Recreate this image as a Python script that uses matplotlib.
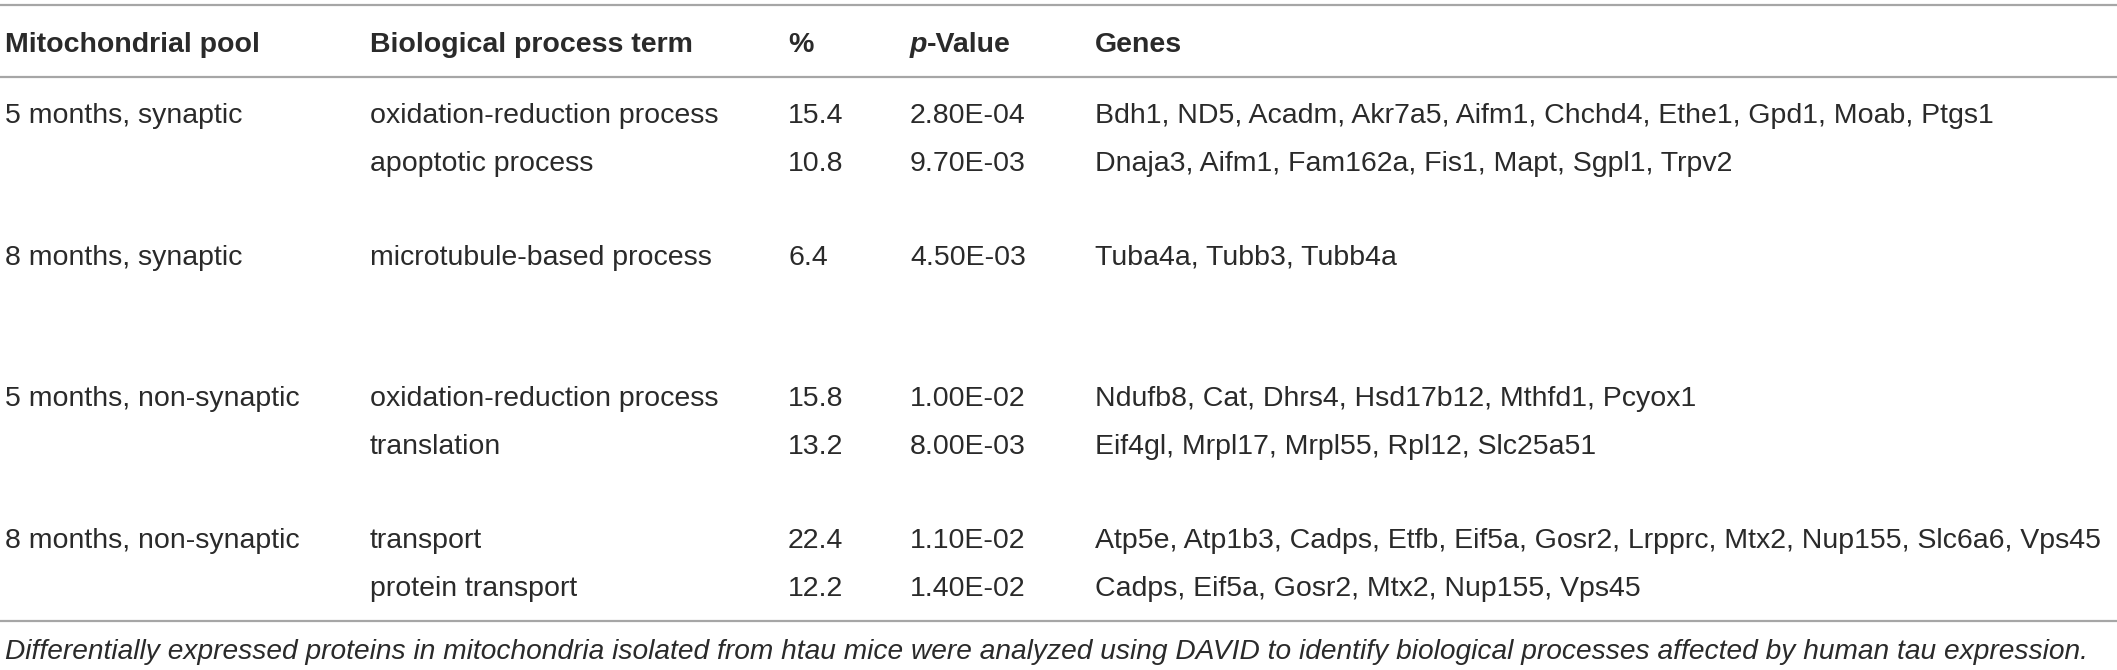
import matplotlib
matplotlib.use("Agg")
import matplotlib.pyplot as plt

plt.rcParams['font.family'] = ['Liberation Sans', 'DejaVu Sans']

# table content
headers = ["Mitochondrial pool", "Biological process term", "%", "p-Value", "Genes"]
pools = ["5 months, synaptic", "8 months, synaptic",
         "5 months, non-synaptic", "8 months, non-synaptic"]
terms = [["oxidation-reduction process", "apoptotic process"],
         ["microtubule-based process"],
         ["oxidation-reduction process", "translation"],
         ["transport", "protein transport"]]
percents = [["15.4", "10.8"], ["6.4"], ["15.8", "13.2"], ["22.4", "12.2"]]
pvalues = [["2.80E-04", "9.70E-03"], ["4.50E-03"],
           ["1.00E-02", "8.00E-03"], ["1.10E-02", "1.40E-02"]]
genes = [["Bdh1, ND5, Acadm, Akr7a5, Aifm1, Chchd4, Ethe1, Gpd1, Moab, Ptgs1",
          "Dnaja3, Aifm1, Fam162a, Fis1, Mapt, Sgpl1, Trpv2"],
         ["Tuba4a, Tubb3, Tubb4a"],
         ["Ndufb8, Cat, Dhrs4, Hsd17b12, Mthfd1, Pcyox1",
          "Eif4gl, Mrpl17, Mrpl55, Rpl12, Slc25a51"],
         ["Atp5e, Atp1b3, Cadps, Etfb, Eif5a, Gosr2, Lrpprc, Mtx2, Nup155, Slc6a6, Vps45",
          "Cadps, Eif5a, Gosr2, Mtx2, Nup155, Vps45"]]
caption = ("Differentially expressed proteins in mitochondria isolated from htau mice "
           "were analyzed using DAVID to identify biological processes affected by human tau expression.")

W, H = 2117, 670
fig = plt.figure(figsize=(W / 100, H / 100), dpi=100)
ax = fig.add_axes([0, 0, 1, 1])
ax.set_xlim(0, W)
ax.set_ylim(H, 0)
ax.axis('off')

col_x = [5, 370, 788, 910, 1095]
fs = 20.5
txt_col = '#2a2a2a'
line_col = '#a6a6a6'

# rules
for y in [5, 77, 621]:
    ax.plot([0, W], [y, y], color=line_col, lw=1.6, solid_capstyle='butt')

# header
header_base = 52
for i, h in enumerate(headers):
    if h == "p-Value":
        t = ax.text(col_x[i], header_base, "p", fontsize=fs, fontweight='bold',
                    fontstyle='italic', color=txt_col, va='baseline')
        fig.canvas.draw()
        bb = t.get_window_extent()
        ax.text(col_x[i] + bb.width, header_base, "-Value", fontsize=fs,
                fontweight='bold', color=txt_col, va='baseline')
    else:
        ax.text(col_x[i], header_base, h, fontsize=fs, fontweight='bold',
                color=txt_col, va='baseline')

# body rows
group_base = [123, 265, 406, 548]
sub_step = 48
for g, pool in enumerate(pools):
    y0 = group_base[g]
    ax.text(col_x[0], y0, pool, fontsize=fs, color=txt_col, va='baseline')
    for r in range(len(terms[g])):
        y = y0 + r * sub_step
        for c, val in zip(col_x[1:], [terms[g][r], percents[g][r], pvalues[g][r], genes[g][r]]):
            ax.text(c, y, val, fontsize=fs, color=txt_col, va='baseline')

ax.text(5, 659, caption, fontsize=20.25, fontstyle='italic', color=txt_col, va='baseline')

fig.savefig("out.png", dpi=100)
